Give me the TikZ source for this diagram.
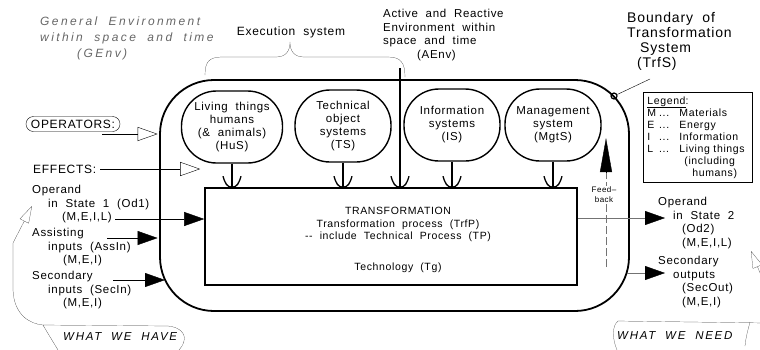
\documentclass[tikz,border=0pt]{standalone}
\usepackage{fontspec}
\setmainfont{Liberation Sans}[LetterSpace=6,WordSpace=2]
\usetikzlibrary{
  positioning,
  calc,
  arrows.meta,
}
\newcommand\lgd[2]{\makebox[10pt][l]{#1}\makebox[22pt][l]{\,...}#2}
\tikzset{
  >={Triangle[length=20pt,width=14pt]},
  every node/.style={inner sep=0pt, text=black},
  txt/.style={align=left, font=\fontsize{11.5}{13.5}\selectfont},
  bulb/.style={
    draw,
    line width=1.4pt,
    rounded corners=35pt,
    minimum width=96pt,
    minimum height=72pt,
    align=center,
    font=\fontsize{11.5}{13}\selectfont,
  },
  trfbox/.style={
    draw,
    line width=1.6pt,
    minimum width=372pt,
    minimum height=97pt,
  },
  boundary/.style={
    draw,
    line width=1.8pt,
    rounded corners=54pt,
    minimum width=469pt,
    minimum height=231pt,
  },
  flow/.style={thin, ->},
  outflow/.style={thin, black!55, -{Triangle[length=20pt,width=14pt,color=black]}},
  opn/.style={thin, -{Triangle[open,length=20pt,width=14pt]}},
  link/.style={line width=1.3pt},
  callout/.style={very thin, black!80},
  wish/.style={font=\itshape\fontsize{11.5}{13}\selectfont\addfontfeatures{LetterSpace=15}},
  socket/.pic={
    \draw[line width=1.3pt] (-9,-11) .. controls (-7,-4) and (-5,0) .. (0,0)
      .. controls (5,0) and (7,-4) .. (9,-11);
  },
}

\begin{document}
\begin{tikzpicture}[x=1pt,y=-1pt]
  \useasboundingbox (0,0) rectangle (760,349);

  \node[boundary] (trfs) at (394.5,195.5) {};
  \node[trfbox] (trf) at (391,236.5) {};
  \node[txt, align=center, font=\fontsize{10.5}{12.5}\selectfont] (trftxt) at (398,240)
    {TRANSFORMATION\\Transformation process (TrfP)\\-{}- include Technical Process (TP)\\[18pt]Technology (Tg)};

  \node[bulb, minimum width=101pt] (hus) at (232,127) {Living things\\humans\\(\& animals)\\(HuS)};
  \node[bulb] (ts)   at (343,126) {Technical\\object\\systems\\(TS)};
  \node[bulb] (is)   at (452,125) {Information\\systems\\(IS)};
  \node[bulb] (mgts) at (553,125) {Management\\system\\(MgtS)};
  \foreach \b in {hus,ts,is,mgts}
    \draw[link] (\b) -- (\b |- trf.north) pic {socket};

  \coordinate (aenvtop) at (400,68);
  \draw[line width=1.6pt] (aenvtop) -- (aenvtop |- trf.north) pic {socket};

  \draw[very thin, black!80] (205,75) .. controls (205,62) and (209,57) .. (222,57)
    -- (276,57) .. controls (286,57) and (290,51) .. (290,42)
    .. controls (290,51) and (294,57) .. (304,57) -- (388,57)
    .. controls (401,57) and (405,63) .. (405,77);
  \node[txt, font=\fontsize{12}{14}\selectfont] (exec) at (291,32) {Execution system};
  \node[txt, anchor=north west] (aenv) at (383,9)
    {Active and Reactive\\Environment within\\space and time\\\hspace*{34pt}(AEnv)};
  \node[txt, anchor=north west, font=\itshape\fontsize{12}{16}\selectfont\addfontfeatures{LetterSpace=20}, text=black!60] (genv) at (40,17)
    {General Environment\\within space and time\\\hspace*{37pt}(GEnv)};

  \node[draw, circle, line width=1.2pt, minimum size=6pt] (mark) at (614,96) {};
  \node[anchor=north west, align=left, font=\fontsize{14}{15}\selectfont] (trfslbl) at (627,12)
    {Boundary of\\Transformation\\\hspace*{13pt}System\\\hspace*{10pt}(TrfS)};
  \coordinate (trfspt) at (650,79);
  \draw[thin] (mark) -- (trfspt);

  \node[draw, thick, anchor=north west, align=left, inner sep=4pt, text width=101pt,
    font=\fontsize{10.5}{12}\selectfont] (legend) at (643,92)
    {\underline{Legend}:\\\lgd{M}{Materials}\\\lgd{E}{Energy}\\\lgd{I}{Information}\\\lgd{L}{Living things}\\\hspace*{37pt}(including\\\hspace*{45pt}humans)};

  \node[draw, rounded corners=7.5pt, inner xsep=5pt, minimum height=15pt,
    font=\fontsize{12}{14}\selectfont] (ops) at (73,124) {OPERATORS:};
  \coordinate (opsfoot) at (102,134);
  \draw[opn, shorten >=1.5pt] (opsfoot) -- (opsfoot -| trfs.west);

  \node[anchor=west, font=\fontsize{12}{14}\selectfont] (eff) at (33,169) {EFFECTS:};
  \draw[opn, shorten <=4pt, shorten >=4pt] (eff) -- (eff -| trf.west);

  \node[txt, anchor=north west] (od1) at (32,185)
    {Operand\\\hspace*{16pt}in State 1 (Od1)\\\hspace*{30pt}(M,E,I,L)};
  \coordinate (od1end) at (115,219);
  \draw[flow] (od1end) -- (od1end -| trf.west);

  \node[txt, anchor=north west] (assin) at (32,228)
    {Assisting\\\hspace*{16pt}inputs (AssIn)\\\hspace*{31pt}(M,E,I)};
  \coordinate (assinend) at (107,238);
  \draw[flow, shorten >=1.5pt] (assinend) -- (assinend -| trfs.west);

  \node[txt, anchor=north west] (secin) at (32,271)
    {Secondary\\\hspace*{16pt}inputs (SecIn)\\\hspace*{31pt}(M,E,I)};
  \coordinate (secinend) at (113,280);
  \coordinate (secintip) at (165,280);
  \draw[flow] (secinend) -- (secintip);

  \coordinate (od2tip) at (665,218);
  \draw[outflow] (od2tip -| trf.east) -- (od2tip);
  \node[txt, anchor=north west] (od2) at (658,197)
    {Operand\\\hspace*{15pt}in State 2\\\hspace*{24pt}(Od2)\\\hspace*{24pt}(M,E,I,L)};

  \coordinate (secouttip) at (665,273);
  \coordinate (secoutfoot) at (627,273);
  \draw[outflow] (secoutfoot) -- (secouttip);
  \node[txt, anchor=north west] (secout) at (658,256)
    {Secondary\\\hspace*{15pt}outputs\\\hspace*{24pt}(SecOut)\\\hspace*{24pt}(M,E,I)};

  \coordinate (fbtop) at (606,138);
  \coordinate (fbbase) at (606,172);
  \coordinate (fbbot) at (606,267);
  \draw[black!55, dash pattern=on 8pt off 3pt] (fbbot) -- (fbbase);
  \draw[-{Triangle[length=34pt,width=12pt]}] (fbbase) -- (fbtop);
  \node[fill=white, inner sep=1pt, align=center, font=\fontsize{8}{10}\selectfont] (fb) at (604,195) {Feed--\\back};

  \coordinate (havetip) at (32,206);
  \draw[callout, {Triangle[open,length=17pt,width=10pt]}-] (havetip) -- (13,243) -- (13,290)
    .. controls (14,315) and (30,324) .. (43,325);
  \draw[callout] (58,350) .. controls (52,340) and (47,332) .. (43,325) -- (168,326)
    .. controls (180,327) and (186,334) .. (184,341) .. controls (183,345) and (181,348) .. (179,350);
  \node[wish, anchor=west] (have) at (63,337) {WHAT WE HAVE};

  \coordinate (needtip) at (751,251);
  \draw[callout, {Triangle[open,length=17pt,width=10pt]}-] (needtip) -- (765,285);
  \draw[callout] (617,350) .. controls (612,338) and (612,326) .. (618,321) -- (765,323);
  \draw[callout] (750,322) .. controls (748,330) and (746,336) .. (745,346);
  \node[wish, anchor=west] (need) at (617,336) {WHAT WE NEED};
\end{tikzpicture}
\end{document}
